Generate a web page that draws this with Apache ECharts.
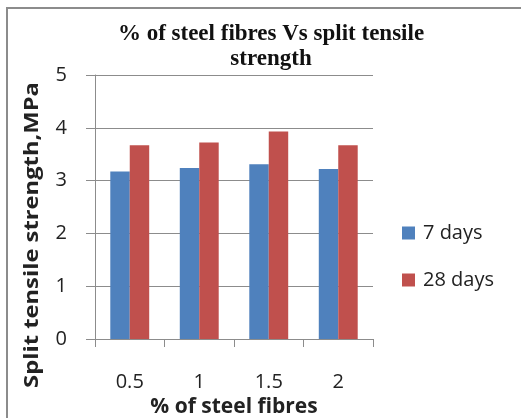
<!DOCTYPE html>
<html>
<head>
<meta charset="utf-8">
<script src="https://cdn.jsdelivr.net/npm/echarts@6/dist/echarts.min.js"></script>
<style>
  html, body { margin: 0; padding: 0; background: #fff; }
  #chart { width: 521px; height: 418px; }
</style>
</head>
<body>
<div id="chart"></div>
<script>
// Fibre dosage (% by volume) and split tensile strength at two curing ages
const categories = ['0.5', '1', '1.5', '2'];
const days7 = [3.17, 3.24, 3.31, 3.22];
const days28 = [3.67, 3.72, 3.93, 3.67];
const yTicks = [0, 1, 2, 3, 4, 5];

const sans = '"Open Sans", "Noto Sans", sans-serif';
const chart = echarts.init(document.getElementById('chart'), null, { renderer: 'canvas' });

chart.setOption({
  backgroundColor: '#ffffff',
  animation: false,
  title: {
    text: '% of steel fibres Vs split tensile\nstrength',
    left: 266,
    top: 17,
    textAlign: 'center',
    textStyle: {
      fontFamily: '"Liberation Serif", "Times New Roman", serif',
      fontWeight: 'bold',
      fontSize: 23,
      lineHeight: 25,
      color: '#111'
    }
  },
  graphic: [
    {
      type: 'rect',
      shape: { x: 7, y: 8, width: 540, height: 440 },
      style: { fill: 'none', stroke: '#8c8c8c', lineWidth: 2 },
      silent: true
    },
    {
      // vertical axis title, stretched along its reading direction
      type: 'text',
      x: 33,
      y: 235,
      rotation: Math.PI / 2,
      scaleX: 1.25,
      style: {
        text: 'Split tensile strength,MPa',
        fontFamily: sans,
        fontSize: 19,
        fontWeight: 'bold',
        fill: '#222',
        align: 'center',
        verticalAlign: 'middle'
      },
      silent: true
    }
  ],
  legend: {
    orient: 'vertical',
    left: 397,
    top: 218,
    itemWidth: 13,
    itemHeight: 13,
    itemGap: 27,
    icon: 'rect',
    textStyle: { fontFamily: sans, fontSize: 20, color: '#222', padding: [0, 0, 0, 3] },
    data: ['7 days', '28 days']
  },
  grid: { left: 95, right: 148, top: 75, bottom: 79, containLabel: false, outerBoundsMode: 'none' },
  xAxis: {
    type: 'category',
    data: categories,
    name: '% of steel fibres',
    nameLocation: 'middle',
    nameGap: 52,
    nameTextStyle: { fontFamily: sans, fontSize: 21, fontWeight: 'bold', color: '#222' },
    axisLine: { show: true, lineStyle: { color: '#8c8c8c', width: 1 } },
    axisTick: { show: true, alignWithLabel: false, length: 8, lineStyle: { color: '#8c8c8c' } },
    axisLabel: { fontFamily: sans, fontSize: 20, color: '#222', margin: 33 },
    splitLine: { show: false }
  },
  yAxis: {
    type: 'value',
    min: yTicks[0],
    max: yTicks[yTicks.length - 1],
    interval: 1,
    axisLine: { show: true, lineStyle: { color: '#8c8c8c', width: 1 } },
    axisTick: { show: true, inside: false, length: 9, lineStyle: { color: '#8c8c8c' } },
    axisLabel: { fontFamily: sans, fontSize: 20, color: '#222', margin: 28 },
    splitLine: { show: true, lineStyle: { color: '#8c8c8c', width: 1 } }
  },
  series: [
    {
      name: '7 days',
      type: 'bar',
      data: days7,
      barGap: '0%',
      barCategoryGap: '44%',
      itemStyle: { color: '#4F81BD' }
    },
    {
      name: '28 days',
      type: 'bar',
      data: days28,
      barGap: '0%',
      barCategoryGap: '44%',
      itemStyle: { color: '#C0504D' }
    }
  ]
});
</script>
</body>
</html>
